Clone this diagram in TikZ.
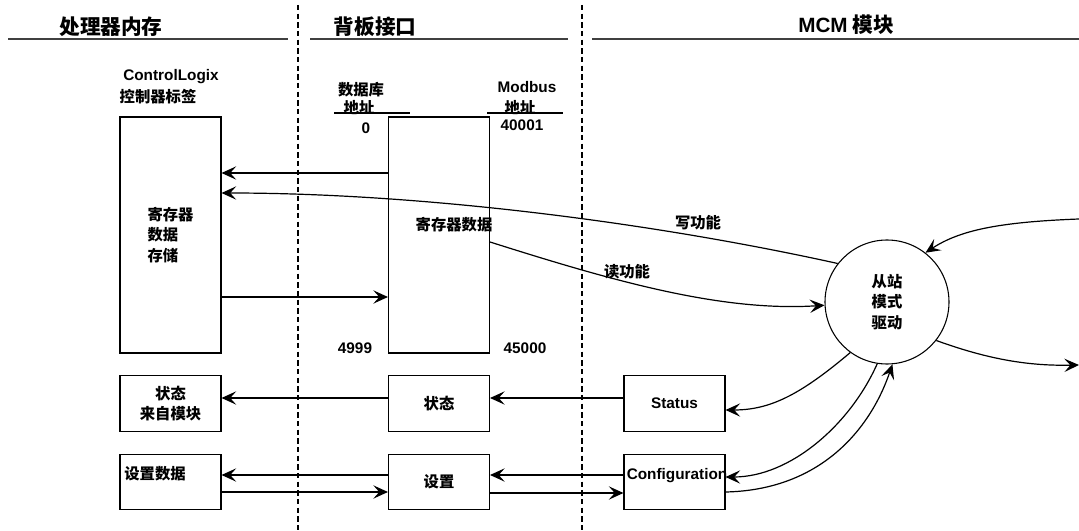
\documentclass[tikz,border=0pt]{standalone}
\usepackage{fontspec}
\setmainfont{Liberation Sans}
\newfontfamily\cjk{Noto Sans CJK SC}
\usetikzlibrary{arrows.meta}

\begin{document}
\begin{tikzpicture}[x=0.75pt,y=-0.75pt,>={Stealth[length=11pt,width=10pt,inset=4.5pt]},
  box node/.style={draw,line width=0.8pt,inner sep=0pt,minimum width=75.75pt,align=center,
    font=\cjk\bfseries\fontsize{11.5}{15.5}\selectfont},
  big node/.style={box node,minimum height=177pt},
  small node/.style={box node,minimum height=41.5pt},
  text node/.style={inner sep=0pt,font=\bfseries\fontsize{11.5}{15.5}\selectfont},
  zh node/.style={inner sep=0pt,align=center,font=\cjk\bfseries\fontsize{11.5}{15.5}\selectfont},
  head node/.style={inner sep=0pt,font=\cjk\bfseries\fontsize{15.5}{18}\selectfont},
  flow/.style={->,line width=0.9pt},
  divider/.style={dash pattern=on 4pt off 2.5pt,line width=1.1pt}]
  \useasboundingbox (0,0) rectangle (1079,531);

  % headings and column rules
  \node[head node] (h1) at (111,27) {处理器内存};
  \node[head node] (h2) at (375,27) {背板接口};
  \node[head node] (h3) at (846,25) {{\rmfamily MCM} 模块};
  \draw[line width=1.2pt,black!75] (8,39) -- (288,39) (310,39) -- (568,39) (592,39) -- (1079,39);
  \draw[divider] (298,5) -- (298,531);
  \draw[divider] (582,5) -- (582,531);

  % processor side
  \node[text node] (clx) at (171,77) {ControlLogix};
  \node[zh node] (tags) at (158,97) {控制器标签};
  \node[big node,align=left] (store) at (170.5,235) {寄存器\\数据\\存储};
  \node[small node] (stmod) at (170.5,403.5) {状态\\来自模块};
  \node[small node] (setd) at (170.5,482) {};
  \node[zh node] (setdtxt) at (155,474) {设置数据};

  % backplane
  \node[zh node] (dbaddr) at (361,90) {数据库};
  \node[zh node] (dbaddr2) at (359,108) {地址};
  \draw[line width=0.8pt] (334,113) -- (410,113);
  \node[text node] (zero) at (366,128) {0};
  \node[text node] (last) at (355,348) {4999};
  \node[big node] (regdata) at (439,235) {};
  \node[zh node] (rdtxt) at (454,225) {寄存器数据};
  \node[small node] (sts) at (439,403.5) {状态};
  \node[small node] (setb) at (439,482) {设置};

  % module
  \node[text node] (mb) at (527,87) {Modbus};
  \node[zh node] (mbaddr) at (520,108) {地址};
  \draw[line width=0.8pt] (487,113) -- (563,113);
  \node[text node] (first) at (522,125) {40001};
  \node[text node] (mblast) at (525,348) {45000};
  \node[box node,circle,minimum size=93pt] (drv) at (887,302) {从站\\模式\\驱动};
  \node[small node,font=\bfseries\fontsize{11.5}{15.5}\selectfont] (stat) at (674.5,403.5) {Status};
  \node[small node,font=\bfseries\fontsize{11.5}{15.5}\selectfont] (cfg) at (674.5,482) {};
  \node[text node] (cfgtxt) at (677,476) {Configuration};
  \node[zh node] (wr) at (698,223) {写功能};
  \node[zh node] (rd) at (627,272) {读功能};
  \coordinate (inR) at (1079,219);
  \coordinate (outR) at (1079,365);

  % data flow
  \draw[flow] (regdata.west |- 0,173) -- (store.east |- 0,173);
  \draw[flow] (store.east |- 0,297) -- (regdata.west |- 0,297);
  \draw[flow] (drv.142) .. controls (650,222) and (420,193) .. (store.east |- 0,193);
  \draw[flow] (regdata.east |- 0,242) .. controls (610,280) and (720,312) .. (drv.183);
  \draw[flow] (inR) .. controls (1000,222) and (960,230) .. (drv.52);
  \draw[flow] (drv.322) .. controls (990,360) and (1030,366) .. (outR);

  \draw[flow] (drv.234) .. controls (800,395) and (770,410) .. (stat.east |- 0,410);
  \draw[flow] (drv.261) .. controls (850,425) and (790,477) .. (cfg.east |- 0,477);
  \draw[flow] (cfg.east |- 0,492) .. controls (820,490) and (870,430) .. (drv.275);

  \draw[flow] (stat.west |- 0,398) -- (sts.east |- 0,398);
  \draw[flow] (sts.west |- 0,398) -- (stmod.east |- 0,398);
  \draw[flow] (cfg.west |- 0,475) -- (setb.east |- 0,475);
  \draw[flow] (setb.east |- 0,493) -- (cfg.west |- 0,493);
  \draw[flow] (setb.west |- 0,475) -- (setd.east |- 0,475);
  \draw[flow] (setd.east |- 0,492) -- (setb.west |- 0,492);
\end{tikzpicture}
\end{document}
